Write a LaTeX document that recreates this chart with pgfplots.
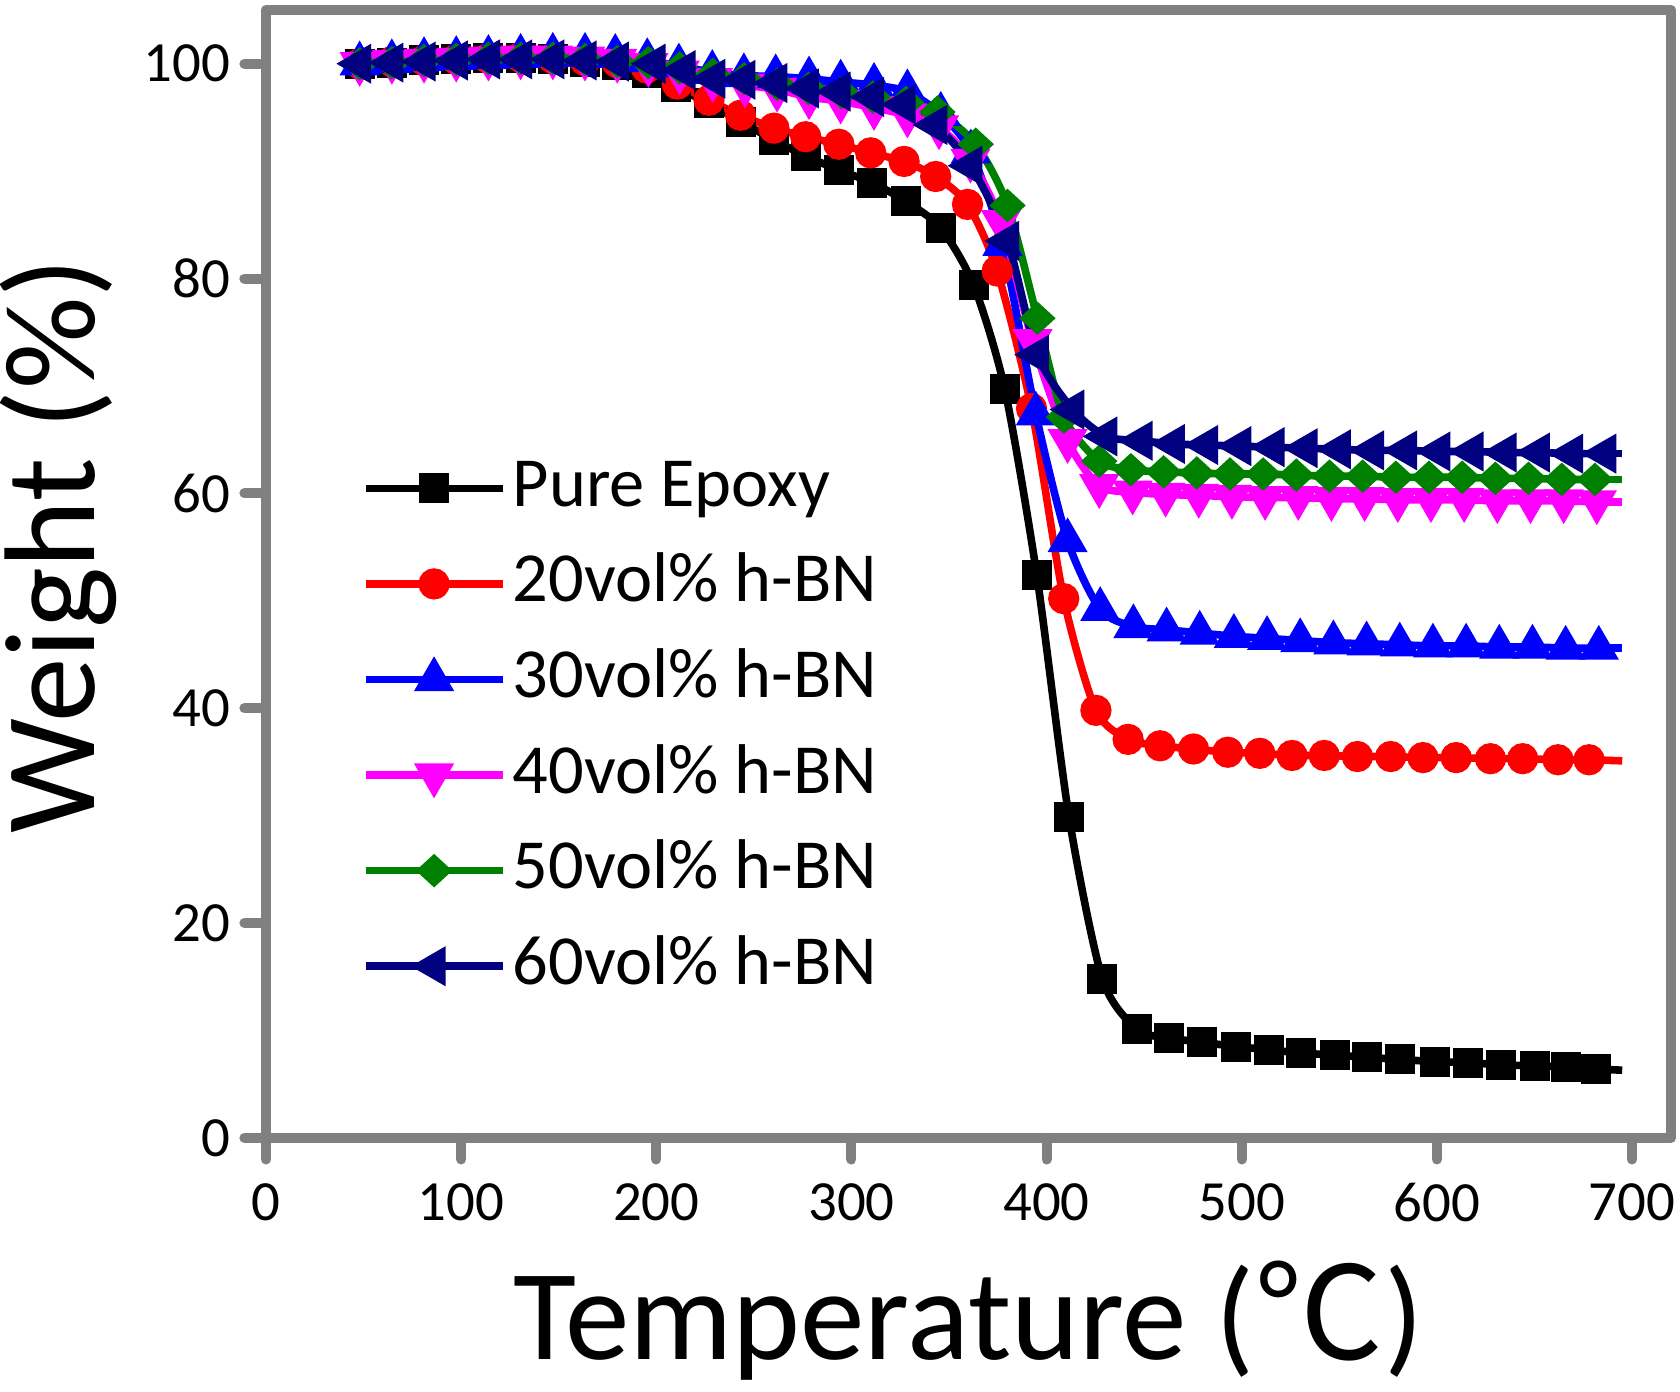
\documentclass[border=0pt]{standalone}
\usepackage{fontspec}
\setmainfont{Carlito}
\newfontfamily\cjk{Noto Sans CJK SC}
\usepackage{pgfplots}
\usepackage{pgfplotstable}
\pgfplotsset{compat=1.18}
\definecolor{axgray}{RGB}{128,128,128}
\definecolor{mgreen}{RGB}{0,128,0}
\definecolor{navy}{RGB}{0,0,128}
\definecolor{mmag}{RGB}{255,0,255}
\definecolor{mred}{RGB}{255,0,0}
\definecolor{mblue}{RGB}{0,0,255}

\pgfplotstableread{
x y
48 100.0
64.5 100.1
81 100.3
97.5 100.4
114 100.5
130.5 100.5
147 100.4
163.5 100.2
180 99.9
195 99.1
210 97.8
227 96.3
243.2 94.6
260.3 92.9
276.6 91.4
293.6 90.1
310.8 88.9
327.8 87.2
345.8 84.7
362.6 79.4
378.6 69.7
395 52.4
411.5 29.9
428.6 14.8
446.4 10.1
462.8 9.3
479.8 8.9
497.2 8.5
514.1 8.2
530.4 7.9
547.9 7.7
564.3 7.5
581.2 7.3
599.1 7.1
616.1 7.0
633 6.8
650.4 6.7
666.3 6.6
681.7 6.4
}\pure

\pgfplotstableread{
x y
48 100.0
64.5 100.2
81 100.3
97.5 100.4
114 100.5
130.5 100.6
147 100.5
163.5 100.3
180 100.1
195 99.6
210.8 98.1
227 96.6
243.2 95.2
260.3 94.0
276.6 93.2
293.6 92.5
309.9 91.7
327 90.9
343.2 89.5
359.5 86.9
374.7 80.7
392.3 67.9
408.8 50.2
425.3 39.8
441.8 37.1
458.2 36.5
475.3 36.2
492.9 35.9
509.3 35.8
525.8 35.6
542.3 35.6
559.3 35.5
576.4 35.5
592.9 35.4
609.9 35.4
627.5 35.3
644 35.3
662.1 35.2
678 35.2
}\bnA

\pgfplotstableread{
x y
48 100.0
64.5 100.2
81 100.4
97.5 100.5
114 100.6
130.5 100.7
147 100.8
163.5 100.8
179 100.7
195.4 100.3
211.6 99.8
228.7 99.2
244.9 98.9
261.2 98.8
278.3 98.6
294.5 98.3
311.6 98.0
328.7 97.4
345.8 95.3
361.2 91.8
377.4 83.2
394.5 67.4
410.8 55.6
427.5 49.2
444.5 47.6
461.5 47.3
478.5 47.0
496 46.7
513 46.5
530 46.3
547 46.1
564 46.0
581 45.9
598 45.8
615 45.8
632 45.7
649 45.7
666 45.6
683 45.6
}\bnB

\pgfplotstableread{
x y
48 100.0
64.5 100.2
81 100.3
97.5 100.4
114 100.5
130.5 100.6
147 100.6
163.5 100.5
180 100.3
196 99.9
212 99.2
229 98.5
245.5 98.0
261.9 97.6
278.3 96.9
294.5 96.5
311.6 95.9
328.7 95.2
344.9 94.1
361 91.0
376.6 85.3
392.8 74.2
410.8 64.9
427 60.7
444.1 60.1
461 59.9
478 59.8
495 59.7
512 59.6
529 59.6
546 59.5
563 59.5
580 59.4
597 59.4
614 59.4
631 59.3
648 59.3
665 59.3
682 59.2
}\bnC

\pgfplotstableread{
x y
48 100.0
64.5 100.1
81 100.3
97.5 100.4
114 100.5
130.5 100.5
147 100.5
163.5 100.4
180 100.2
196 100.1
212 99.6
229 99.0
245 98.6
262 98.1
278 97.7
295 97.3
311 96.9
328 96.4
344.1 95.5
363.7 92.5
380 86.8
395.3 76.3
408.9 67.1
427 63.0
443.2 62.2
460 62.0
477 61.9
494 61.8
511 61.8
528 61.7
545 61.6
562 61.6
579 61.5
596 61.5
613 61.5
630 61.4
647 61.4
664 61.3
681 61.3
}\bnD

\pgfplotstableread{
x y
48 100.0
64.5 100.1
81 100.2
97.5 100.3
114 100.4
130.5 100.4
147 100.4
163.5 100.3
180 100.2
198.8 100.0
214.2 99.4
229.5 98.6
244.9 98.5
261.2 98.2
277.4 97.7
293.6 97.4
310.8 96.9
327 96.2
343.2 94.3
361.2 90.5
380 83.5
395.3 72.9
413.4 67.8
430.4 65.3
448.4 64.9
465 64.6
482 64.5
499 64.4
516 64.3
533 64.2
550 64.1
567 64.0
584 64.0
601 63.9
618 63.9
635 63.8
652 63.8
669 63.7
686 63.7
}\bnE

\begin{document}
\begin{tikzpicture}
\begin{axis}[
  scale only axis,
  width=351.3pt, height=282pt,
  xmin=0, xmax=720, ymin=0, ymax=105,
  xtick={0,100,...,700}, ytick={0,20,...,100},
  axis line style={axgray, line width=2.6pt, line join=round},
  tick align=outside, xtick pos=left, ytick pos=left,
  major tick length=5.4pt,
  every tick/.style={axgray, line width=2.5pt, line cap=round},
  tick label style={font=\fontsize{14.2}{17}\selectfont, text=black},
  xticklabel style={yshift=-2.5pt},
  /pgf/number format/assume math mode=true,
  label style={font=\fontsize{32.3}{38}\selectfont},
  xlabel={Temperature ({\cjk ℃})},
  xlabel style={at={(axis description cs:0.5,-0.1966)}, anchor=base},
  ylabel={Weight (\%)},
  ylabel style={at={(axis description cs:-0.122,0.525)}, anchor=base},
  every axis plot/.append style={line width=1.9pt, smooth, tension=0.45},
  legend image code/.code={\draw[mark repeat=2,mark phase=2] plot coordinates {(0pt,0pt) (17pt,0pt) (34pt,0pt)};},
  legend cell align=left,
  legend style={at={(axis description cs:0.068,0.605)}, anchor=north west,
    draw=none, fill=none, inner sep=0pt,
    font=\fontsize{17.6}{20}\selectfont, row sep=7.9pt,
    nodes={inner sep=0pt, text height=12.5pt, text depth=3.5pt},
    /tikz/every odd column/.append style={column sep=1.7pt}},
]
\addplot[black, mark=square*, mark size=2.8pt, mark options={solid}] table {\pure};
\addlegendentry{Pure Epoxy}
\addplot[mred, mark=*, mark size=2.95pt, mark options={solid}] table {\bnA};
\addlegendentry{20vol\% h-BN}
\addplot[mblue, mark=triangle*, mark size=3.9pt, mark options={solid}] table {\bnB};
\addlegendentry{30vol\% h-BN}
\addplot[mmag, mark=triangle*, mark size=3.9pt, mark options={solid, rotate=180}] table {\bnC};
\addlegendentry{40vol\% h-BN}
\addplot[mgreen, mark=diamond*, mark size=2.9pt, mark options={solid, xscale=1.45}] table {\bnD};
\addlegendentry{50vol\% h-BN}
\addplot[navy, mark=triangle*, mark size=3.9pt, mark options={solid, rotate=90}] table {\bnE};
\addlegendentry{60vol\% h-BN}
\addplot[forget plot, black] coordinates {(681.7,6.4) (695,6.3)};
\addplot[forget plot, mred] coordinates {(678,35.2) (695,35.1)};
\addplot[forget plot, mblue] coordinates {(683,45.6) (695,45.6)};
\addplot[forget plot, mmag] coordinates {(682,59.2) (695,59.2)};
\addplot[forget plot, mgreen] coordinates {(681,61.3) (695,61.3)};
\addplot[forget plot, navy] coordinates {(686,63.7) (695,63.7)};
\end{axis}
\pgfresetboundingbox
\path ([shift={(-66.5pt,-63.5pt)}]current axis.south west) rectangle ([shift={(2.25pt,2.5pt)}]current axis.north east);
\end{tikzpicture}
\end{document}
